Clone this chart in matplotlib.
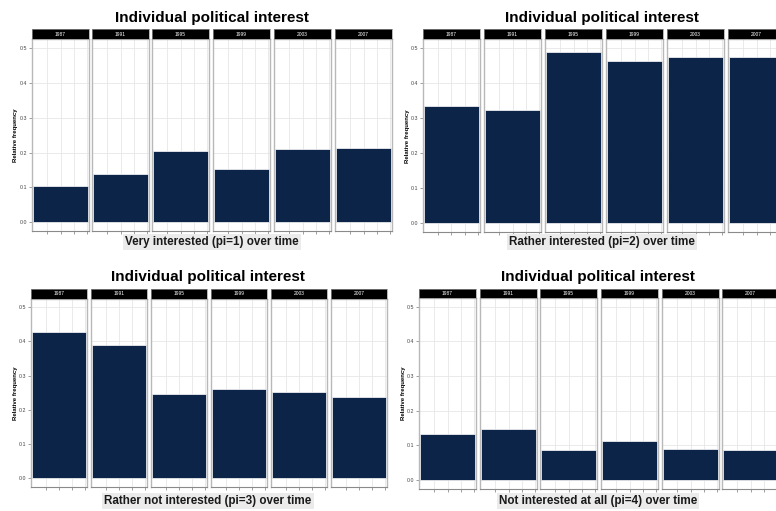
import numpy as np
import matplotlib.pyplot as plt

plt.rcParams['font.family'] = ['Liberation Sans', 'DejaVu Sans']

years = ['1987', '1991', '1995', '1999', '2003', '2007']
pi1 = [0.104, 0.140, 0.204, 0.152, 0.210, 0.212]
pi2 = [0.335, 0.323, 0.489, 0.464, 0.476, 0.476]
pi3 = [0.427, 0.388, 0.246, 0.260, 0.252, 0.239]
pi4 = [0.131, 0.148, 0.086, 0.111, 0.088, 0.086]
captions = ['Very interested (pi=1) over time',
            'Rather interested (pi=2) over time',
            'Rather not interested (pi=3) over time',
            'Not interested at all (pi=4) over time']
title = 'Individual political interest'
yticks = [0.0, 0.1, 0.2, 0.3, 0.4, 0.5]

W, H = 776, 511
fig = plt.figure(figsize=(W / 100, H / 100), dpi=100)
bar_col = '#0c2448'


def px_ax(x0, y0, w, h):
    # pixel box (top-left origin) -> figure axes
    return fig.add_axes([x0 / W, 1 - (y0 + h) / H, w / W, h / H])


def block(lefts, fw, ptop, pbot, strip_h, vals, cap, tx, ty, cy, lab_x):
    for i, (yr, v) in enumerate(zip(years, vals)):
        ax = px_ax(lefts[i], ptop, fw, pbot - ptop)
        ax.set_xlim(0, 1)
        ax.set_ylim(-0.025, 0.525)
        ax.set_axisbelow(True)
        ax.grid(True, color='#e6e6e6', lw=0.6)
        ax.bar([0.5], [v], width=0.96, color=bar_col, edgecolor='white', lw=0.5)
        ax.set_xticks([0.27, 0.5, 0.73, 0.96])
        ax.set_xticklabels([])
        ax.tick_params(axis='x', length=2, width=0.5, color='#777777')
        for s in ['left', 'right', 'top']:
            ax.spines[s].set_color('#b8b8b8')
            ax.spines[s].set_linewidth(1.0)
        ax.spines['bottom'].set_color('#8a8a8a')
        ax.spines['bottom'].set_linewidth(0.8)
        ax.set_yticks(yticks)
        if i == 0:
            ax.set_yticklabels(['%.1f' % t for t in yticks], fontsize=3.8, color='#444444')
            ax.tick_params(axis='y', length=2, width=0.5, color='#777777', pad=1.5)
        else:
            ax.set_yticklabels([])
            ax.tick_params(axis='y', length=0)
        sax = px_ax(lefts[i], ptop - strip_h, fw, strip_h)
        sax.set_facecolor('black')
        sax.set_xticks([])
        sax.set_yticks([])
        for s in sax.spines.values():
            s.set_color('#999999')
            s.set_linewidth(0.5)
        sax.text(0.5, 0.5, yr, color='white', fontsize=3.5, ha='center', va='center',
                 transform=sax.transAxes)
    fig.text(tx / W, 1 - ty / H, title, fontsize=11, fontweight='bold',
             ha='center', va='center')
    fig.text(tx / W, 1 - cy / H, cap, fontsize=8.4, fontweight='bold', color='#1a1a1a',
             ha='center', va='center',
             bbox=dict(facecolor='#ebebeb', edgecolor='none', pad=1.5))
    fig.text(lab_x / W, 1 - (ptop + pbot) / 2 / H, 'Relative frequency', fontsize=4.3,
             fontweight='bold', rotation=90, ha='center', va='center')


block([32, 92, 152, 213, 274, 335], 57, 39.5, 231, 10, pi1, captions[0], 212, 18, 242, 15)
block([423, 484, 545, 606, 667, 728], 57, 39.5, 232, 10, pi2, captions[1], 602, 18, 242, 408)
block([31, 91, 151, 211, 271, 331], 56, 298.5, 487, 9.5, pi3, captions[2], 208, 277.5, 501, 16)
block([419, 480, 540, 601, 662, 722], 57, 298, 488.5, 9.5, pi4, captions[3], 598, 277.5, 501, 403)

fig.savefig('out.png', dpi=100)
